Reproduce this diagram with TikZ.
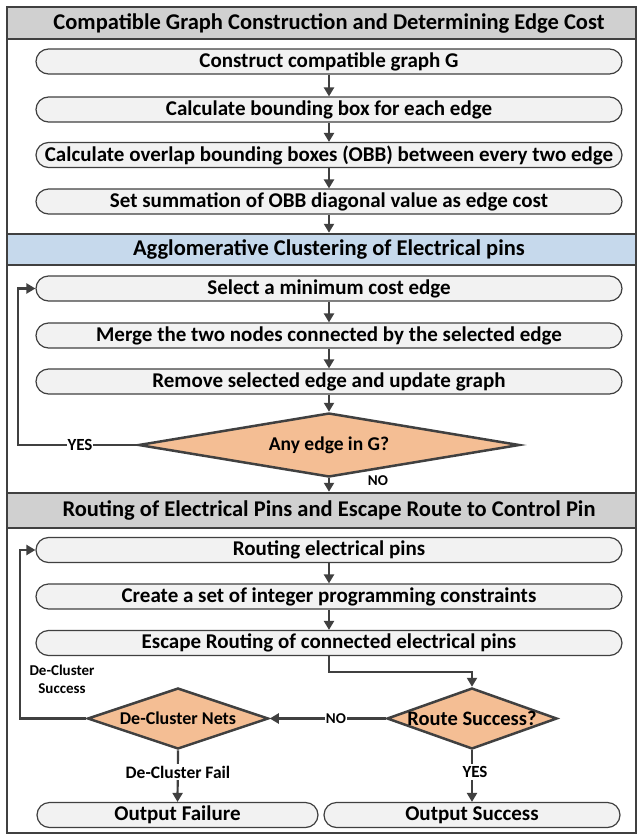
\documentclass[tikz,border=0pt]{standalone}
\usepackage{fontspec}
\setmainfont{Carlito}
\usetikzlibrary{shapes.geometric,arrows.meta}
\definecolor{hdgray}{HTML}{D0D0D0}
\definecolor{hdblue}{HTML}{C6D9EC}
\definecolor{boxfill}{HTML}{F2F2F2}
\definecolor{dfill}{HTML}{F4BE94}
\definecolor{ln}{HTML}{404040}
\tikzset{
  bar/.style={draw=ln, line width=2.5pt, minimum width=629pt, inner sep=0pt},
  hdtext/.style={font=\bfseries\fontsize{22.5}{24}\selectfont, text=black},
  pbox/.style={draw=ln, line width=1.2pt, fill=boxfill, rounded corners=12.5pt, minimum width=586pt, minimum height=25pt, inner sep=0pt, font=\bfseries\fontsize{21}{23}\selectfont},
  dia/.style={diamond, draw=ln, line width=2.5pt, fill=dfill, inner sep=0pt},
  arr/.style={draw=ln, line width=2.2pt, -{Triangle[length=9pt,width=10pt]}},
  lbl/.style={fill=white, inner sep=1pt, font=\bfseries\fontsize{17}{19}\selectfont},
}
\begin{document}
\begin{tikzpicture}[x=1pt,y=-1pt]
\useasboundingbox (0,0) rectangle (640,836);
% header bars
\node[bar, fill=hdgray, minimum height=32pt] (h1) at (321.5,23) {};
\node[hdtext] (h1t) at (329,23) {Compatible Graph Construction and Determining Edge Cost};
\node[bar, fill=hdblue, minimum height=31pt] (h2) at (321.5,249.5) {};
\node[hdtext] (h2t) at (329,249.5) {Agglomerative Clustering of Electrical pins};
\node[bar, fill=hdgray, minimum height=35pt] (h3) at (321.5,510.5) {};
\node[hdtext] (h3t) at (329,510.5) {Routing of Electrical Pins and Escape Route to Control Pin};
% outer frame
\draw[draw=ln, line width=2.5pt] (7,7) rectangle (636,833);
% section 1
\node[pbox] (b1) at (329,61.5) {Construct compatible graph G};
\node[pbox] (b2) at (329,109.5) {Calculate bounding box for each edge};
\node[pbox] (b3) at (329,155) {Calculate overlap bounding boxes (OBB) between every two edge};
\node[pbox] (b4) at (329,201.5) {Set summation of OBB diagonal value as edge cost};
\draw[arr] (b1) -- (b2);
\draw[arr] (b2) -- (b3);
\draw[arr] (b3) -- (b4);
\draw[arr] (b4) -- (b4 |- h2.north);
% section 2
\node[pbox] (sel) at (329,288.5) {Select a minimum cost edge};
\node[pbox] (mer) at (329,335.5) {Merge the two nodes connected by the selected edge};
\node[pbox] (rem) at (329,381.5) {Remove selected edge and update graph};
\node[dia, aspect=5.95, minimum width=381pt, minimum height=64pt, font=\bfseries\fontsize{19.5}{21}\selectfont] (ae) at (329,445) {Any edge in G?};
\draw[arr] (sel) -- (mer);
\draw[arr] (mer) -- (rem);
\draw[arr] (rem) -- (ae);
\coordinate (yl) at (18,445);
\draw[arr] (ae.west) -- (yl) |- (sel.west);
\node[lbl] (yes1) at (80,445) {YES};
\draw[arr] (ae.south) -- (ae.south |- h3.north);
\node[lbl, fill=none, font=\bfseries\fontsize{15}{17}\selectfont] (no1) at (378,481) {NO};
% section 3
\node[pbox] (rt) at (329,550) {Routing electrical pins};
\node[pbox] (cr) at (329,596.5) {Create a set of integer programming constraints};
\node[pbox] (es) at (329,643) {Escape Routing of connected electrical pins};
\draw[arr] (rt) -- (cr);
\draw[arr] (cr) -- (es);
\node[dia, aspect=2.79, minimum width=170pt, minimum height=61pt, font=\bfseries\fontsize{20.5}{22}\selectfont] (rs) at (472,718.5) {Route Success?};
\node[dia, aspect=2.97, minimum width=181pt, minimum height=61pt, font=\bfseries\fontsize{18}{20}\selectfont] (dc) at (178,718.5) {De-Cluster Nets};
\coordinate (tc) at (329,672);
\draw[arr] (es.south) -- (tc) -| (rs.north);
\draw[arr] (rs.west) -- (dc.east);
\node[lbl, font=\bfseries\fontsize{15}{17}\selectfont] (no2) at (336,719) {NO};
\coordinate (dl) at (20,718.5);
\draw[arr] (dc.west) -- (dl) |- (rt.west);
\node[lbl, fill=none, align=center, font=\bfseries\fontsize{15}{18}\selectfont] (dcs) at (62,679) {De-Cluster\\Success};
\node[pbox, minimum width=281pt] (of) at (177.5,815) {Output Failure};
\node[pbox, minimum width=296pt] (os) at (472,815) {Output Success};
\draw[arr] (dc.south) -- (of.north);
\node[lbl, inner sep=2pt, font=\bfseries\fontsize{17.5}{19}\selectfont] (dcf) at (178,772) {De-Cluster Fail};
\draw[arr] (rs.south) -- (os.north);
\node[lbl, inner sep=2pt] (yes2) at (475,772) {YES};
\end{tikzpicture}
\end{document}
